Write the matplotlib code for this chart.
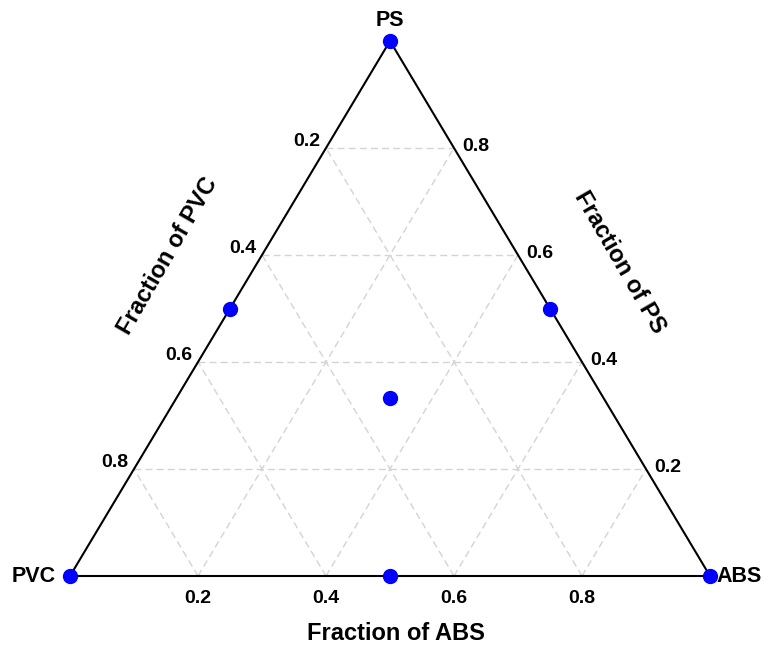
import numpy as np
import matplotlib
matplotlib.use('Agg')
import matplotlib.pyplot as plt

plt.rcParams['font.family'] = ['Liberation Sans', 'DejaVu Sans']
plt.rcParams['font.weight'] = 'bold'

# blend compositions (fractions of PVC, ABS, PS)
pvc = [1.0, 0.0, 0.0, 0.5, 0.5, 0.0, 1/3]
abs_ = [0.0, 1.0, 0.0, 0.5, 0.0, 0.5, 1/3]
ps = [0.0, 0.0, 1.0, 0.0, 0.5, 0.5, 1/3]

ticks = [0.2, 0.4, 0.6, 0.8]
corners = ['PVC', 'ABS', 'PS']

def to_xy(a, p):
    # ternary -> cartesian (PVC corner at origin, ABS at (1,0), PS at top)
    a = np.asarray(a); p = np.asarray(p)
    return a + p / 2, p

fig = plt.figure(figsize=(7.7, 6.5), dpi=100)
ax = fig.add_axes([70/770, (650-576)/650, 640/770, 535/650])
ax.set_xlim(0, 1)
ax.set_ylim(0, 1)
ax.axis('off')

grid_kw = dict(color='#d4d4d4', lw=1, ls=(0, (5, 3)), zorder=1)
for t in ticks:
    # constant PS
    x0, y0 = to_xy(0, t); x1, y1 = to_xy(1 - t, t)
    ax.plot([x0, x1], [y0, y1], **grid_kw)
    # constant ABS
    x0, y0 = to_xy(t, 0); x1, y1 = to_xy(t, 1 - t)
    ax.plot([x0, x1], [y0, y1], **grid_kw)
    # constant PVC
    x0, y0 = to_xy(1 - t, 0); x1, y1 = to_xy(0, 1 - t)
    ax.plot([x0, x1], [y0, y1], **grid_kw)

# outline
ox, oy = to_xy([0, 1, 0, 0], [0, 0, 1, 0])
ax.plot(ox, oy, color='black', lw=1.5, zorder=2, clip_on=False)

# data points
px, py = to_xy(abs_, ps)
ax.plot(px, py, 'o', color='#0000ff', ms=10, zorder=5, clip_on=False)

tfs = 14
for t in ticks:
    # ABS along bottom
    x, y = to_xy(t, 0)
    ax.annotate(f'{t:.1f}', (x, y), xytext=(0, -16.5), textcoords='offset points',
                ha='center', va='center', fontsize=tfs, fontweight='bold')
    # PVC along left edge
    x, y = to_xy(0, 1 - t)
    ax.annotate(f'{t:.1f}', (x, y), xytext=(-4, 5), textcoords='offset points',
                ha='right', va='center', fontsize=tfs, fontweight='bold')
    # PS along right edge
    x, y = to_xy(1 - t, t)
    ax.annotate(f'{t:.1f}', (x, y), xytext=(6, 1), textcoords='offset points',
                ha='left', va='center', fontsize=tfs, fontweight='bold')

# corner labels
cfs = 15.5
x, y = to_xy(0, 0)
ax.annotate(corners[0], (x, y), xytext=(-10, 0), textcoords='offset points',
            ha='right', va='center', fontsize=cfs, fontweight='bold')
x, y = to_xy(1, 0)
ax.annotate(corners[1], (x, y), xytext=(5, 0), textcoords='offset points',
            ha='left', va='center', fontsize=cfs, fontweight='bold')
x, y = to_xy(0, 1)
ax.annotate(corners[2], (x, y), xytext=(0, 14.5), textcoords='offset points',
            ha='center', va='center', fontsize=cfs, fontweight='bold')

# axis titles
afs = 17
fig.text(396/770, 1 - 633/650, 'Fraction of ABS', ha='center', va='center',
         fontsize=afs, fontweight='bold')
fig.text(168/770, 1 - 256/650, 'Fraction of PVC', ha='center', va='center',
         rotation=60, rotation_mode='anchor', fontsize=afs, fontweight='bold')
fig.text(620/770, 1 - 262/650, 'Fraction of PS', ha='center', va='center',
         rotation=-60, rotation_mode='anchor', fontsize=afs, fontweight='bold')

fig.savefig('out.png', dpi=100, facecolor='white')
